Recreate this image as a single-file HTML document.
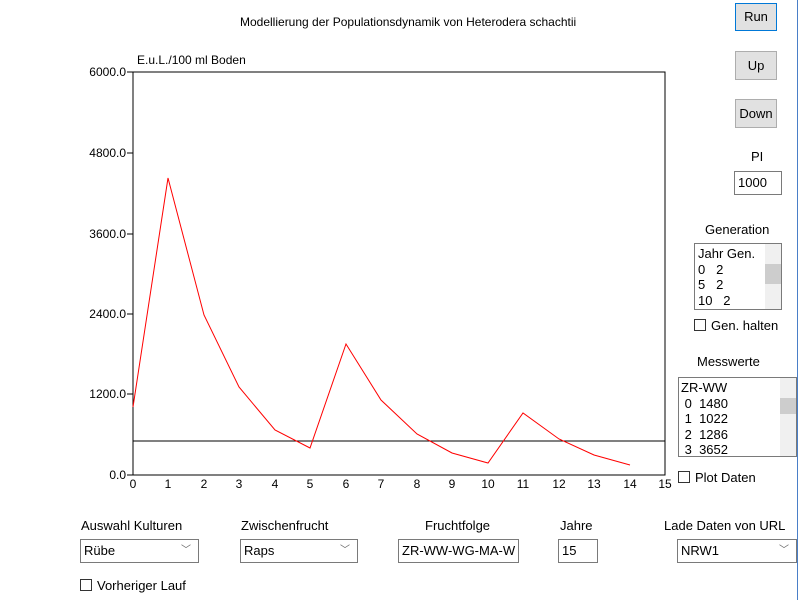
<!DOCTYPE html><html><head><style>
body{margin:0;width:800px;height:600px;background:#fff;position:relative;overflow:hidden;font-family:"Liberation Sans",sans-serif;font-size:13px;color:#000}
.a{position:absolute;white-space:nowrap}
.btn{position:absolute;background:#e1e1e1;border:1px solid #adadad;box-sizing:border-box;text-align:center;font-size:13px}
.box{position:absolute;border:1px solid #7a7a7a;box-sizing:border-box;background:#fff;font-size:13px;padding-left:3px}
.cb{display:inline-block;width:10px;height:10px;border:1px solid #333;vertical-align:-1px;margin-right:5px;background:#fff}
.sb{position:absolute;right:0;top:0;bottom:0;width:16px;background:#f0f0f0}
.arr{position:absolute;right:7px;color:#666;font-size:10px}
</style></head><body>
<div class="a" style="left:240px;top:15px;font-size:12px">Modellierung der Populationsdynamik von Heterodera schachtii</div>
<div class="a" style="left:137px;top:53px;font-size:12px">E.u.L./100 ml Boden</div>
<svg class="a" style="left:0;top:0" width="800" height="600">
<rect x="133" y="72" width="532" height="403" fill="none" stroke="#000"/>
<g font-size="12" font-family="Liberation Sans" text-anchor="end">
<text x="126" y="76">6000.0</text><text x="126" y="157">4800.0</text><text x="126" y="238">3600.0</text><text x="126" y="318">2400.0</text><text x="126" y="398">1200.0</text><text x="126" y="479">0.0</text></g>
<g stroke="#000"><line x1="127" y1="72" x2="133" y2="72"/><line x1="127" y1="153" x2="133" y2="153"/><line x1="127" y1="234" x2="133" y2="234"/><line x1="127" y1="314" x2="133" y2="314"/><line x1="127" y1="394" x2="133" y2="394"/><line x1="127" y1="475" x2="133" y2="475"/>
<line x1="133" y1="441" x2="665" y2="441"/></g>
<g font-size="12" font-family="Liberation Sans" text-anchor="middle">
<text x="133" y="488">0</text><text x="168" y="488">1</text><text x="204" y="488">2</text><text x="239" y="488">3</text><text x="275" y="488">4</text><text x="310" y="488">5</text><text x="346" y="488">6</text><text x="381" y="488">7</text><text x="417" y="488">8</text><text x="452" y="488">9</text><text x="488" y="488">10</text><text x="523" y="488">11</text><text x="559" y="488">12</text><text x="594" y="488">13</text><text x="630" y="488">14</text><text x="665" y="488">15</text></g>
<polyline fill="none" stroke="#f00" points="133,407 168,178 204,315 239,387 275,430 310,448 346,344 381,400 417,434 452,453 488,463 523,413 559,439 594,455 630,465"/>
<line x1="797.5" y1="0" x2="797.5" y2="600" stroke="#4a7fc8"/>
</svg>
<div class="btn" style="left:735px;top:3px;width:42px;height:28px;line-height:26px;border:1px solid #0078d7">Run</div>
<div class="btn" style="left:735px;top:51px;width:42px;height:29px;line-height:27px">Up</div>
<div class="btn" style="left:735px;top:99px;width:42px;height:29px;line-height:27px">Down</div>
<div class="a" style="left:751px;top:149px">PI</div>
<div class="box" style="left:734px;top:171px;width:48px;height:24px;line-height:22px">1000</div>
<div class="a" style="left:705px;top:222px">Generation</div>
<div class="box" style="left:694px;top:243px;width:88px;height:67px;line-height:15.5px;padding-top:2px">Jahr Gen.<br>0&nbsp;&nbsp; 2<br>5&nbsp;&nbsp; 2<br>10&nbsp;&nbsp; 2<div class="sb"><div style="position:absolute;top:20px;left:0;right:0;height:20px;background:#cdcdcd"></div></div></div>
<div class="a" style="left:694px;top:318px"><span class="cb"></span>Gen. halten</div>
<div class="a" style="left:697px;top:354px">Messwerte</div>
<div class="box" style="left:678px;top:377px;width:119px;height:80px;line-height:15.5px;padding-top:2px;padding-left:2px">ZR-WW<br>&nbsp;0&nbsp; 1480<br>&nbsp;1&nbsp; 1022<br>&nbsp;2&nbsp; 1286<br>&nbsp;3&nbsp; 3652<div class="sb"><div style="position:absolute;top:20px;left:0;right:0;height:16px;background:#cdcdcd"></div></div></div>
<div class="a" style="left:678px;top:470px"><span class="cb"></span>Plot Daten</div>
<div class="a" style="left:81px;top:518px">Auswahl Kulturen</div>
<div class="a" style="left:241px;top:518px">Zwischenfrucht</div>
<div class="a" style="left:425px;top:518px">Fruchtfolge</div>
<div class="a" style="left:560px;top:518px">Jahre</div>
<div class="a" style="left:664px;top:518px">Lade Daten von URL</div>
<div class="box" style="left:80px;top:539px;width:119px;height:24px;line-height:22px">Rübe<span class="arr">﹀</span></div>
<div class="box" style="left:240px;top:539px;width:118px;height:24px;line-height:22px">Raps<span class="arr">﹀</span></div>
<div class="box" style="left:398px;top:539px;width:121px;height:24px;line-height:22px">ZR-WW-WG-MA-W</div>
<div class="box" style="left:558px;top:539px;width:40px;height:24px;line-height:22px">15</div>
<div class="box" style="left:677px;top:539px;width:120px;height:24px;line-height:22px">NRW1<span class="arr">﹀</span></div>
<div class="a" style="left:80px;top:578px"><span class="cb"></span>Vorheriger Lauf</div>
</body></html>
